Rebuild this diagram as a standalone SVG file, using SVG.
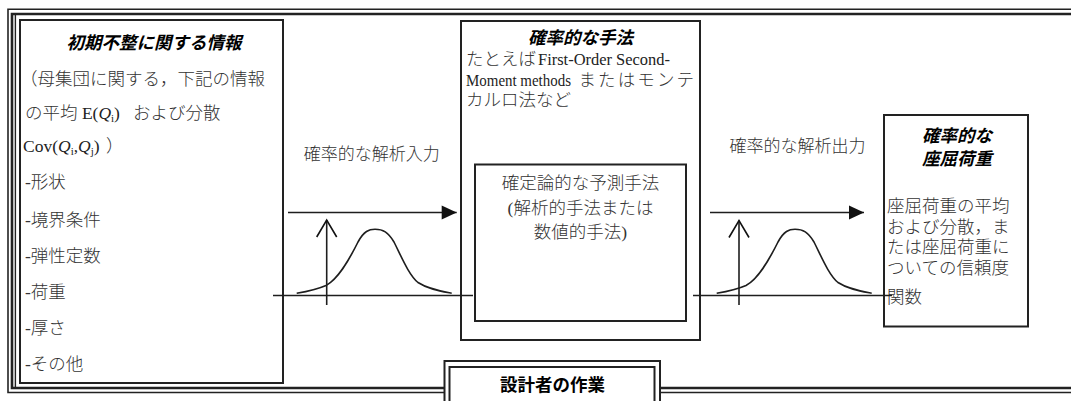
<svg xmlns="http://www.w3.org/2000/svg" width="1071" height="401" viewBox="0 0 1071 401">
<style>
text{font-family:"Liberation Serif","Noto Sans CJK JP",sans-serif;font-size:17.5px;font-weight:300;fill:#333}
.t{font-weight:bold;font-style:italic;fill:#000}
.b{font-weight:bold;fill:#000}
.c{text-anchor:middle}
.lb{font-size:17px}
.box{fill:#fff;stroke:#222;stroke-width:2}
.ln{fill:none;stroke:#1e1e1e;stroke-width:1.6}
.fr{fill:none;stroke:#222}
.lat{font-size:17.5px;font-weight:normal;fill:#222}
.it{font-style:italic}
.sub{font-size:11px;font-weight:normal;fill:#222}
</style>
<defs>
<marker id="ah" markerUnits="userSpaceOnUse" markerWidth="16" markerHeight="15" refX="15" refY="7" orient="auto" overflow="visible"><path d="M0,0 L15,7 L0,14 z" fill="#111"/></marker>
<marker id="oa" markerUnits="userSpaceOnUse" markerWidth="18" markerHeight="22" refX="17" refY="10" orient="auto" overflow="visible"><path d="M0,0 L17,10 L0,20" fill="none" stroke="#111" stroke-width="1.6"/></marker>
</defs>
<rect width="1071" height="401" fill="#fff"/>
<g id="frame">
<path class="fr" stroke-width="1.6" d="M1071,9.3 H8 V392.5 H445 M660,392.5 H1071"/>
<path class="fr" stroke-width="2.6" d="M1071,14 H12 V388 H445 M660,388 H1071"/>
<path class="fr" stroke-width="1.4" d="M15.4,15 V387"/>
</g>
<g id="node-initial-imperfection">
<rect class="box" x="20" y="20" width="263" height="363"/>
<text class="t c" x="154" y="48.5">初期不整に関する情報</text>
<text x="20" y="85">（母集団に関する，下記の情報</text>
<text x="25" y="118.5">の平均 <tspan class="lat">E(</tspan><tspan class="lat it">Q</tspan><tspan class="sub" dy="3">i</tspan><tspan class="lat" dy="-3">)</tspan><tspan x="133">および分散</tspan></text>
<text x="23" y="152"><tspan class="lat">Cov(</tspan><tspan class="lat it">Q</tspan><tspan class="sub" dy="3">i</tspan><tspan class="lat" dy="-3">,</tspan><tspan class="lat it">Q</tspan><tspan class="sub" dy="3">j</tspan><tspan class="lat" dy="-3">)</tspan><tspan x="106">）</tspan></text>
<text x="25" y="188">-形状</text>
<text x="25" y="225.5">-境界条件</text>
<text x="25" y="262">-弾性定数</text>
<text x="25" y="298">-荷重</text>
<text x="25" y="334">-厚さ</text>
<text x="25" y="370">-その他</text>
</g>
<g id="node-probabilistic-method">
<rect class="box" x="461" y="21" width="239" height="319"/>
<text class="t c" x="580.5" y="44">確率的な手法</text>
<text x="466" y="65">たとえば</text>
<text class="lat" x="538" y="65" textLength="132" lengthAdjust="spacingAndGlyphs">First-Order Second-</text>
<text class="lat" x="466" y="85.5" textLength="105" lengthAdjust="spacingAndGlyphs">Moment methods</text>
<text x="578.5" y="85.5" letter-spacing="2.1">またはモンテ</text>
<text x="466" y="106">カルロ法など</text>
</g>
<g id="node-deterministic-method">
<rect class="box" x="475" y="164.5" width="211" height="156.5"/>
<text class="c" x="580.5" y="189">確定論的な予測手法</text>
<text class="c" x="580.5" y="213.5">(解析的手法または</text>
<text class="c" x="580.5" y="238">数値的手法)</text>
</g>
<g id="node-buckling-load">
<rect class="box" x="884" y="115" width="144" height="211.5"/>
<text class="t c" x="957" y="142">確率的な</text>
<text class="t c" x="957" y="165">座屈荷重</text>
<text x="887" y="212">座屈荷重の平均</text>
<text x="887" y="232.5">および分散，ま</text>
<text x="887" y="253">たは座屈荷重に</text>
<text x="887" y="274">ついての信頼度</text>
<text x="887" y="303">関数</text>
</g>
<g id="node-designer-task">
<rect class="box" x="444.5" y="361" width="215.5" height="60"/>
<rect class="box" x="449.5" y="367" width="205" height="60"/>
<text class="b c" x="552.5" y="390.5">設計者の作業</text>
</g>
<g id="connectors">
<line class="ln" x1="288" y1="212.5" x2="456.7" y2="212.5" marker-end="url(#ah)"/>
<line class="ln" x1="273" y1="295.5" x2="473" y2="295.5"/>
<line class="ln" x1="326.7" y1="305" x2="326.7" y2="220" marker-end="url(#oa)"/>
<path class="ln" d="M296.7,293.3 C310,291 318,289 326,285.5 C338,279 348,262 358,242 C364,231 369,229.3 375,229.3 C383,229.3 388,232 394,242 C402,258 409,275 418,282.5 C428,289 440,291 451.7,293.3"/>
<text class="c lb" x="371.7" y="160">確率的な解析入力</text>
<line class="ln" x1="710" y1="212.5" x2="864" y2="212.5" marker-end="url(#ah)"/>
<line class="ln" x1="693" y1="295.5" x2="892" y2="295.5"/>
<line class="ln" x1="739" y1="305" x2="739" y2="220.5" marker-end="url(#oa)"/>
<path class="ln" transform="translate(420,0)" d="M296.7,293.3 C310,291 318,289 326,285.5 C338,279 348,262 358,242 C364,231 369,229.3 375,229.3 C383,229.3 388,232 394,242 C402,258 409,275 418,282.5 C428,289 440,291 451.7,293.3"/>
<text class="c lb" x="797.5" y="151.5">確率的な解析出力</text>
</g>
</svg>
